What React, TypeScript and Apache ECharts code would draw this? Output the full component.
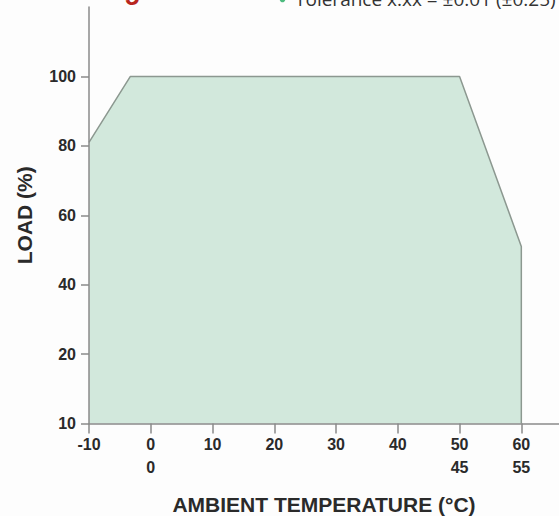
import React, { useEffect, useRef } from 'react';
import * as echarts from 'echarts';

// Derating curve (ambient temperature °C vs load %)
const tempPoints = [-10, -3.3, 50, 60, 60];
const loadPoints = [81, 100, 100, 51, 0];

// X axis tick values and labels
const xTicks = [-10, 0, 10, 20, 30, 40, 50, 60];
const xSecondValues = [0, 50, 60];
const xSecondLabels = ['0', '45', '55'];

// Y axis tick values and labels
const yTicks = [0, 20, 40, 60, 80, 100];
const yTickLabels = ['10', '20', '40', '60', '80', '100'];

const xTitle = 'AMBIENT TEMPERATURE (°C)';
const yTitle = 'LOAD (%)';
const toleranceText = 'Tolerance x.xx = ±0.01 (±0.25)';
const headingText = '5';

export default function App() {
  const ref = useRef<HTMLDivElement>(null);
  useEffect(() => {
    if (!ref.current) return;
    const chart = echarts.init(ref.current, null, { renderer: 'svg' });
    const labelFont = {
      color: '#2a2a2a',
      fontFamily: 'Liberation Sans, Arial, sans-serif',
      fontWeight: 'bold' as const,
      fontSize: 16,
    };
    const axisColor = '#8a8a8a';
    chart.setOption({
      animation: false,
      backgroundColor: '#fdfdfd',
      grid: {
        left: 89,
        right: 0,
        top: 7,
        bottom: 92.5,
        containLabel: false,
        outerBoundsMode: 'none',
      },
      xAxis: {
        type: 'value',
        min: -10,
        max: 66.1,
        z: 5,
        name: xTitle,
        nameLocation: 'middle',
        nameGap: 70,
        nameTextStyle: {
          color: '#2a2a2a',
          fontFamily: 'Liberation Sans, Arial, sans-serif',
          fontWeight: 'bold',
          fontSize: 21,
        },
        axisLine: { show: true, onZero: false, lineStyle: { color: axisColor, width: 1.5 } },
        axisTick: {
          show: true,
          length: 10,
          customValues: xTicks,
          lineStyle: { color: axisColor, width: 1.5 },
        },
        axisLabel: {
          ...labelFont,
          customValues: xTicks,
          margin: 9,
          lineHeight: 23,
          formatter: (v: number) => {
            const i = xSecondValues.indexOf(v);
            return i >= 0 ? `${v}\n${xSecondLabels[i]}` : `${v}\n `;
          },
        },
        splitLine: { show: false },
      },
      yAxis: {
        type: 'value',
        min: 0,
        max: 120,
        z: 5,
        name: yTitle,
        nameLocation: 'middle',
        nameGap: 54,
        nameTextStyle: {
          color: '#2a2a2a',
          fontFamily: 'Liberation Sans, Arial, sans-serif',
          fontWeight: 'bold',
          fontSize: 21,
        },
        axisLine: { show: true, onZero: false, lineStyle: { color: axisColor, width: 1.5 } },
        axisTick: {
          show: true,
          length: 8,
          customValues: yTicks,
          lineStyle: { color: axisColor, width: 1.5 },
        },
        axisLabel: {
          ...labelFont,
          customValues: yTicks,
          margin: 13,
          formatter: (v: number) => {
            const i = yTicks.indexOf(v);
            return i >= 0 ? yTickLabels[i] : '';
          },
        },
        splitLine: { show: false },
      },
      series: [
        {
          type: 'line',
          data: tempPoints.map((t, i) => [t, loadPoints[i]]),
          showSymbol: false,
          symbol: 'none',
          lineStyle: { color: '#8c9890', width: 1.5 },
          areaStyle: { color: '#d2e8dc', opacity: 1 },
          z: 1,
        },
      ],
      graphic: [
        {
          type: 'text',
          x: 125,
          y: -4,
          style: {
            text: headingText,
            fill: '#b8261e',
            font: 'bold 26px "Liberation Sans", Arial, sans-serif',
            verticalAlign: 'middle',
          },
        },
        {
          type: 'circle',
          shape: { cx: 282.5, cy: -0.5, r: 2.8 },
          style: { fill: '#4dbb7f' },
        },
        {
          type: 'text',
          x: 295,
          y: -1.4,
          style: {
            text: toleranceText,
            fill: '#333333',
            font: '19px "Open Sans", "Noto Sans", sans-serif',
            verticalAlign: 'middle',
          },
        },
      ],
    });
    return () => chart.dispose();
  }, []);
  return (
    <div
      ref={ref}
      style={{ position: 'absolute', left: 0, top: 0, width: 559, height: 516 }}
    />
  );
}
